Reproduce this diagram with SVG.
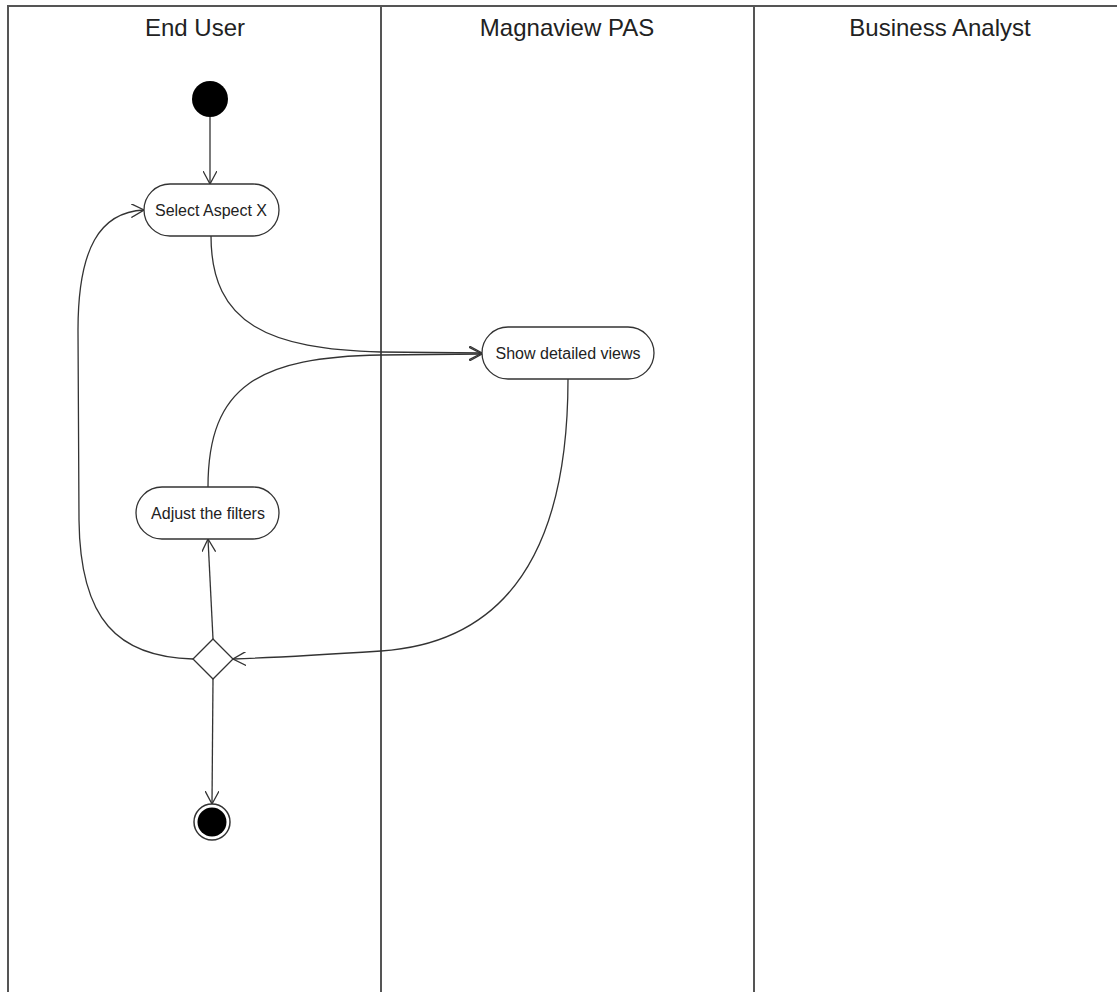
<svg xmlns="http://www.w3.org/2000/svg" width="1117" height="992" viewBox="0 0 1117 992">
  <style>
    .lane { stroke: #555; stroke-width: 2; fill: none; }
    .head { font-family: "Liberation Sans", Arial, sans-serif; font-size: 24px; fill: #222; text-anchor: middle; }
    .act { fill: #fff; stroke: #333; stroke-width: 1.3; }
    .lbl { font-family: "Liberation Sans", Arial, sans-serif; font-size: 16px; fill: #222; text-anchor: middle; }
    .edge { fill: none; stroke: #333; stroke-width: 1.3; marker-end: url(#open); }
  </style>
  <defs>
    <marker id="open" viewBox="0 0 14 14" refX="13" refY="7" markerWidth="14" markerHeight="14" markerUnits="userSpaceOnUse" orient="auto">
      <path d="M0,0 L13,7 L0,14" fill="none" stroke="#333" stroke-width="1.3"/>
    </marker>
  </defs>
  <rect width="1117" height="992" fill="#fff"/>

  <!-- swimlanes -->
  <g id="lanes">
    <line class="lane" x1="7" y1="6" x2="1117" y2="6"/>
    <line class="lane" x1="8" y1="6" x2="8" y2="992"/>
    <line class="lane" x1="381" y1="6" x2="381" y2="992"/>
    <line class="lane" x1="754" y1="6" x2="754" y2="992"/>
    <text class="head" x="195" y="36">End User</text>
    <text class="head" x="567" y="36">Magnaview PAS</text>
    <text class="head" x="940" y="36">Business Analyst</text>
  </g>

  <!-- connectors -->
  <g id="connectors">
    <path class="edge" d="M210,117 L210,184"/>
    <path class="edge" d="M211,236 C211,325 270,349 381,352 L482,353"/>
    <path class="edge" d="M208,487 C208,385 260,357 381,355 L482,354"/>
    <path class="edge" d="M568,379 C568,595 470,645 381,651 C320,655 262,658 233,659"/>
    <path class="edge" d="M213,639 L208,539"/>
    <path class="edge" d="M193,659 C118,657 80,620 79,520 L78,330 C78,248 100,212 144,210"/>
    <path class="edge" d="M213,679 L212,804"/>
  </g>

  <g id="start">
    <circle cx="210" cy="99" r="18" fill="#000"/>
  </g>

  <g id="select-aspect">
    <rect class="act" x="144" y="184" width="135" height="52" rx="26"/>
    <text class="lbl" x="211" y="216">Select Aspect X</text>
  </g>

  <g id="show-views">
    <rect class="act" x="482" y="327" width="172" height="52" rx="26"/>
    <text class="lbl" x="568" y="359">Show detailed views</text>
  </g>

  <g id="adjust-filters">
    <rect class="act" x="136" y="487" width="143" height="52" rx="26"/>
    <text class="lbl" x="208" y="519">Adjust the filters</text>
  </g>

  <g id="decision">
    <polygon class="act" points="213,639 233,659 213,679 193,659"/>
  </g>

  <g id="end">
    <circle cx="212" cy="822" r="18" fill="#fff" stroke="#333" stroke-width="1.5"/>
    <circle cx="212" cy="822" r="14.5" fill="#000"/>
  </g>
</svg>
